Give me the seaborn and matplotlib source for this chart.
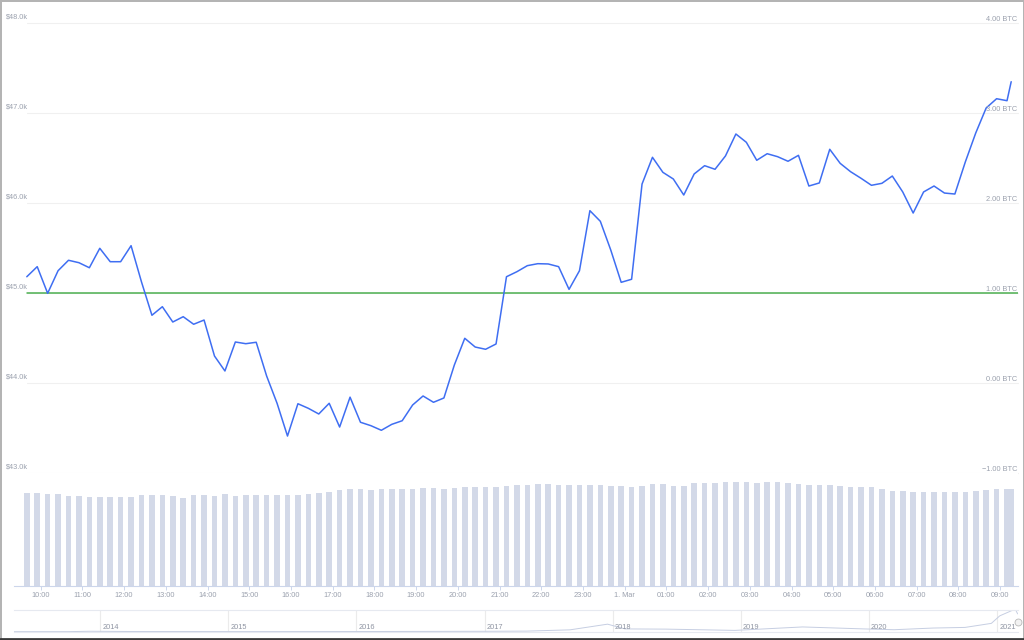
import matplotlib
matplotlib.use("Agg")
import matplotlib.pyplot as plt
import matplotlib.dates as mdates
import matplotlib.transforms as mtransforms
from matplotlib.lines import Line2D
import seaborn as sns
import pandas as pd

# 15 minute price samples (USD), last one is the live partial candle
price = [45184, 45296, 45000, 45251, 45367, 45340, 45284, 45500, 45351, 45351,
         45529, 45126, 44756, 44851, 44681, 44740, 44656, 44703, 44303, 44137,
         44459, 44440, 44456, 44081, 43778, 43414, 43773, 43722, 43659, 43778,
         43514, 43846, 43567, 43529, 43478, 43544, 43584, 43759, 43859, 43789,
         43837, 44203, 44500, 44403, 44378, 44437, 45184, 45240, 45307, 45329,
         45326, 45296, 45044, 45251, 45918, 45800, 45481, 45122, 45156, 46214,
         46511, 46344, 46270, 46092, 46326, 46418, 46378, 46526, 46770, 46678,
         46478, 46551, 46518, 46467, 46533, 46192, 46226, 46600, 46444, 46351,
         46278, 46200, 46222, 46303, 46126, 45892, 46126, 46192, 46114, 46103,
         46459, 46781, 47059, 47162, 47140, 47351]

volume = [92.4, 92.4, 91.4, 91.7, 89.7, 89.7, 89.0, 89.0, 89.0, 88.4,
          88.4, 90.7, 90.4, 90.4, 89.7, 87.4, 90.4, 90.4, 89.7, 91.4,
          89.7, 90.4, 90.4, 90.4, 90.4, 90.4, 91.0, 92.0, 93.0, 94.0,
          95.5, 96.5, 96.5, 96.0, 96.5, 96.5, 97.0, 97.0, 97.5, 97.5,
          97.0, 98.0, 98.5, 98.5, 98.5, 99.0, 99.5, 100.5, 101.0, 101.5,
          101.5, 101.0, 101.0, 100.5, 100.5, 100.5, 100.0, 99.5, 99.0, 99.5,
          101.5, 102.0, 99.5, 100.0, 103.0, 103.0, 103.0, 103.5, 104.0, 103.5,
          103.0, 103.5, 103.5, 103.0, 101.7, 100.7, 100.7, 101.0, 100.0, 99.0,
          99.0, 98.4, 96.7, 95.0, 94.7, 94.0, 94.0, 94.0, 93.4, 93.4,
          94.0, 94.7, 95.7, 96.4, 96.4, 96.7]

times = list(pd.date_range("2021-02-28 09:40", periods=95, freq="15min")) + [pd.Timestamp("2021-03-01 09:16")]

price_ticks = [43000, 44000, 45000, 46000, 47000, 48000]
btc_ticks = [-1, 0, 1, 2, 3, 4]
baseline = 45000

hour_ticks = pd.date_range("2021-02-28 10:00", periods=24, freq="h")
hour_labels = ["10:00", "11:00", "12:00", "13:00", "14:00", "15:00", "16:00", "17:00",
               "18:00", "19:00", "20:00", "21:00", "22:00", "23:00", "1. Mar", "01:00",
               "02:00", "03:00", "04:00", "05:00", "06:00", "07:00", "08:00", "09:00"]

# navigator (full history)
nav_dates = ["2013-04-28", "2013-07-01", "2013-10-01", "2013-12-04", "2014-04-01", "2014-10-01",
             "2015-01-15", "2015-07-01", "2016-01-01", "2016-07-01", "2017-01-01", "2017-05-01",
             "2017-09-01", "2017-12-17", "2018-02-05", "2018-06-01", "2018-12-15", "2019-06-26",
             "2019-12-15", "2020-03-13", "2020-07-01", "2020-10-01", "2020-12-15", "2021-01-08",
             "2021-02-21", "2021-02-28"]
nav_price = [130, 90, 140, 1100, 450, 350, 200, 270, 430, 670, 1000, 1500,
             4700, 19000, 7000, 6500, 3300, 12000, 7100, 5000, 9200, 10800,
             21000, 40000, 57000, 45000]
years = [2014, 2015, 2016, 2017, 2018, 2019, 2020, 2021]

sns.set_theme(style="white")
plt.rcParams['font.family'] = ['Liberation Sans', 'DejaVu Sans']

line_color = "#3f6ef2"
bar_color = "#d3d9e8"
label_color = "#9ba1ae"
grid_color = "#f0f0f0"
axis_color = "#ccd6eb"

W, H = 1024, 640
fig = plt.figure(figsize=(W / 100, H / 100), dpi=100)


def box(x0, y0, x1, y1):
    return [x0 / W, 1 - y1 / H, (x1 - x0) / W, (y1 - y0) / H]


ax = fig.add_axes(box(14, 23.3, 1018, 473.3))
ax_vol = fig.add_axes(box(14, 473.3, 1018, 585.7), sharex=ax)
ax_nav = fig.add_axes(box(14, 609.5, 1018, 631.7))

x = mdates.date2num(times)

# price line
for v in price_ticks:
    ax.axhline(v, xmin=13 / 1004, color=grid_color, lw=0.8, zorder=0, clip_on=False)
ax.axhline(baseline, xmin=13 / 1004, color="#4caf50", lw=1.1, zorder=1)
sns.lineplot(x=x, y=price, ax=ax, color=line_color, linewidth=1.1, zorder=3)
ax.set_ylim(43000, 48000)
ax.set_xlim(mdates.date2num(pd.Timestamp("2021-02-28 09:21:36")),
            mdates.date2num(pd.Timestamp("2021-03-01 09:25:48")))

ax_r = ax.twinx()
ax_r.set_ylim(-1, 4)

tr_left = mtransforms.blended_transform_factory(fig.transFigure, ax.transData)
for v in price_ticks:
    ax.text(6 / W, v + 30, f"${v / 1000:.1f}k", transform=tr_left, ha="left", va="bottom",
            fontsize=5.3, color=label_color)
tr_right = mtransforms.blended_transform_factory(fig.transFigure, ax_r.transData)
for v in btc_ticks:
    ax_r.text(1017 / W, v + 0.006, f"{v:.2f} BTC".replace("-", "\u2212"), transform=tr_right,
              ha="right", va="bottom", fontsize=5.3, color=label_color)

for a in (ax, ax_r):
    for s in a.spines.values():
        s.set_visible(False)
    a.set_yticks([])
    a.tick_params(bottom=False, labelbottom=False)
    a.set_xlabel("")
    a.set_ylabel("")

# volume bars
ax_vol.bar(x, volume, width=8 / 1440, color=bar_color, linewidth=0)
ax_vol.set_ylim(0, 112.4)
ax_vol.set_yticks([])
for name, s in ax_vol.spines.items():
    s.set_visible(name == "bottom")
ax_vol.spines["bottom"].set_color(axis_color)
ax_vol.spines["bottom"].set_linewidth(0.8)
ax_vol.set_xticks(mdates.date2num(hour_ticks))
ax_vol.set_xticklabels(hour_labels)
ax_vol.tick_params(axis="x", bottom=True, length=3, width=0.7, color=axis_color,
                   labelsize=5.3, labelcolor=label_color, pad=1.5)

# navigator
nav_x = mdates.date2num(pd.to_datetime(nav_dates))
sns.lineplot(x=nav_x, y=nav_price, ax=ax_nav, color="#c6cee2", linewidth=0.7)
ax_nav.set_xlim(mdates.date2num(pd.Timestamp("2013-04-30")), mdates.date2num(pd.Timestamp("2021-03-01")))
ax_nav.set_ylim(0, 56000)
tr_nav = mtransforms.offset_copy(
    mtransforms.blended_transform_factory(ax_nav.transData, ax_nav.transAxes),
    fig=fig, x=2, y=0, units="dots")
for yr in years:
    xv = mdates.date2num(pd.Timestamp(f"{yr}-01-01"))
    ax_nav.axvline(xv, color="#ebebeb", lw=0.8, zorder=0)
    ax_nav.text(xv, 0.2, str(yr), transform=tr_nav, ha="left", va="center",
                fontsize=5.3, color="#8e94a2")
# range handle at the right end
ax_nav.plot([nav_x[-1]], [0.45], transform=mtransforms.blended_transform_factory(ax_nav.transData, ax_nav.transAxes),
            marker="o", markersize=5, markerfacecolor="#f2f2f2", markeredgecolor="#b8b8b8",
            markeredgewidth=0.6, clip_on=False, zorder=5)
ax_nav.set_xticks([])
ax_nav.set_yticks([])
for name, s in ax_nav.spines.items():
    s.set_visible(name in ("top", "bottom"))
    s.set_color("#e6e9f0")
    s.set_linewidth(0.8)

# screenshot frame
fig.patch.set_edgecolor("#b4b4b4")
fig.patch.set_linewidth(2)
fig.add_artist(Line2D([0, 1], [1.5 / H, 1.5 / H], transform=fig.transFigure, color="#3a3a3a", lw=2))

fig.savefig("out.png", dpi=100)
